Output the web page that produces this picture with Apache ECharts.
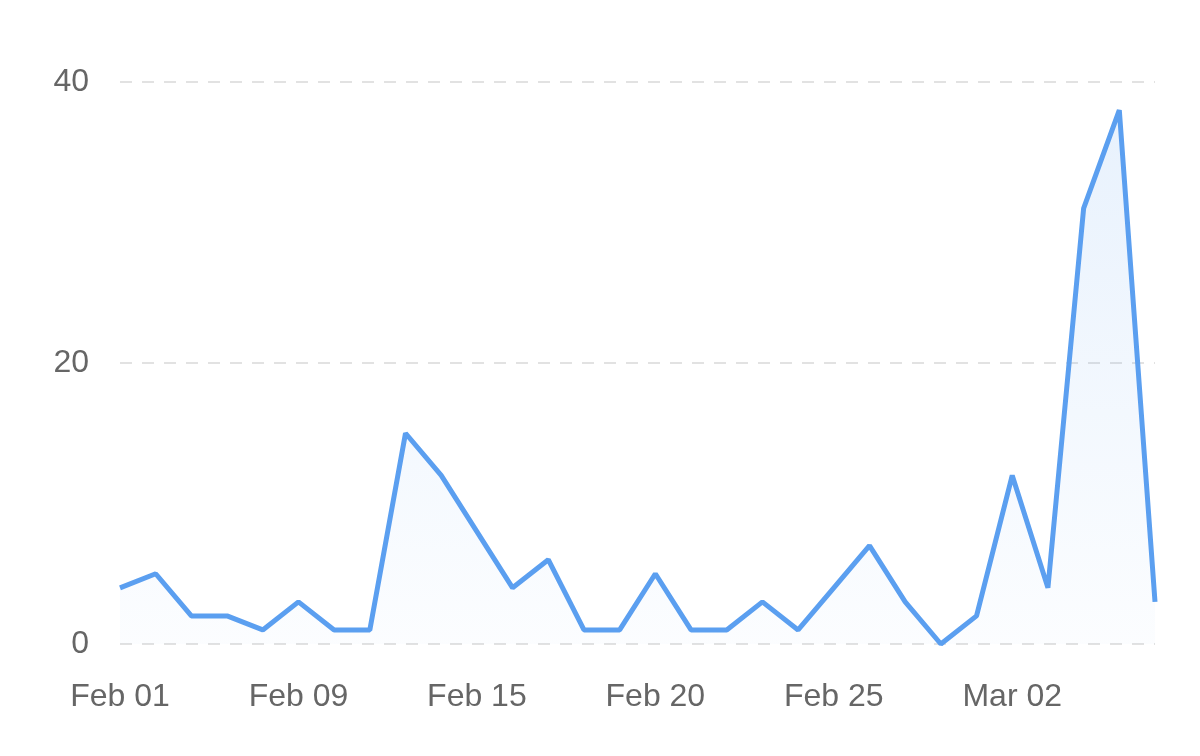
<!DOCTYPE html>
<html>
<head>
<meta charset="utf-8">
<script src="https://cdn.jsdelivr.net/npm/echarts@6/dist/echarts.min.js"></script>
<style>
html,body{margin:0;padding:0;background:#fff;}
#chart{width:1200px;height:756px;}
</style>
</head>
<body>
<div id="chart"></div>
<script>
const categories = ['Feb 01','Feb 02','Feb 04','Feb 05','Feb 07','Feb 09','Feb 10','Feb 11','Feb 12','Feb 14',
  'Feb 15','Feb 16','Feb 17','Feb 18','Feb 19','Feb 20','Feb 21','Feb 22','Feb 23','Feb 24',
  'Feb 25','Feb 26','Feb 27','Feb 28','Mar 01','Mar 02','Mar 03','Mar 04','Mar 05','Mar 06'];
const values = [4,5,2,2,1,3,1,1,15,12,8,4,6,1,1,5,1,1,3,1,4,7,3,0,2,12,4,31,38,3];
const yTicks = [0,20,40];

const chart = echarts.init(document.getElementById('chart'), null, {renderer:'canvas'});
chart.setOption({
  animation:false,
  backgroundColor:'#fff',
  grid:{left:120,right:45,top:82,bottom:112,containLabel:false},
  xAxis:{
    type:'category',
    data:categories,
    boundaryGap:false,
    axisLine:{show:false},
    axisTick:{show:false},
    axisLabel:{interval:4,color:'#666',fontSize:32,fontFamily:'Liberation Sans, Arial, sans-serif',margin:37}
  },
  yAxis:{
    type:'value',
    min:yTicks[0],max:yTicks[yTicks.length-1],interval:20,
    axisLine:{show:false},
    axisTick:{show:false},
    axisLabel:{color:'#666',fontSize:32,fontFamily:'Liberation Sans, Arial, sans-serif',margin:31},
    splitLine:{lineStyle:{type:[12,10],color:'#e2e2e2',width:2}}
  },
  series:[{
    type:'line',
    data:values,
    symbol:'none',
    lineStyle:{color:'#5b9ff0',width:5},
    itemStyle:{color:'#5b9ff0'},
    areaStyle:{color:new echarts.graphic.LinearGradient(0,0,0,1,[
      {offset:0,color:'rgba(91,159,240,0.2)'},
      {offset:1,color:'rgba(91,159,240,0.03)'}
    ])}
  }]
});
</script>
</body>
</html>
